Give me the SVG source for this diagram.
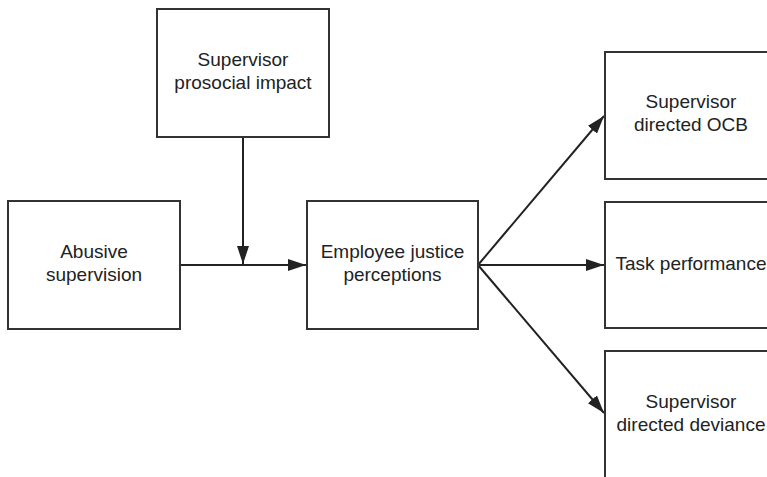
<svg xmlns="http://www.w3.org/2000/svg" width="767" height="477" viewBox="0 0 767 477">
  <defs>
    <marker id="arrow" viewBox="0 0 18 12" refX="18" refY="6" markerWidth="18" markerHeight="12" markerUnits="userSpaceOnUse" orient="auto">
      <path d="M0,0 L18,6 L0,12 Z" fill="#222"/>
    </marker>
  </defs>
  <style>
    .box { fill: #fff; stroke: #333; stroke-width: 2; }
    .label { font-family: "Liberation Sans", Arial, sans-serif; font-size: 19px; fill: #222; text-anchor: middle; }
    .edge { stroke: #222; stroke-width: 2; fill: none; marker-end: url(#arrow); }
  </style>
  <rect width="767" height="477" fill="#fff"/>

  <g id="connectors">
    <line class="edge" x1="180" y1="265" x2="306" y2="265"/>
    <line class="edge" x1="243" y1="137" x2="243" y2="264"/>
    <line class="edge" x1="478" y1="265" x2="604" y2="116"/>
    <line class="edge" x1="478" y1="265" x2="604" y2="265"/>
    <line class="edge" x1="478" y1="265" x2="604" y2="413"/>
  </g>

  <g id="prosocial-impact">
    <rect class="box" x="157" y="9" width="172" height="128"/>
    <text class="label" x="243" y="66">Supervisor</text>
    <text class="label" x="243" y="89">prosocial impact</text>
  </g>

  <g id="abusive-supervision">
    <rect class="box" x="8" y="201" width="172" height="128"/>
    <text class="label" x="94" y="258">Abusive</text>
    <text class="label" x="94" y="281">supervision</text>
  </g>

  <g id="justice-perceptions">
    <rect class="box" x="307" y="201" width="171" height="128"/>
    <text class="label" x="392.5" y="258">Employee justice</text>
    <text class="label" x="392.5" y="281">perceptions</text>
  </g>

  <g id="supervisor-ocb">
    <rect class="box" x="605" y="52" width="172" height="127"/>
    <text class="label" x="691" y="108">Supervisor</text>
    <text class="label" x="691" y="131">directed OCB</text>
  </g>

  <g id="task-performance">
    <rect class="box" x="605" y="202" width="172" height="126"/>
    <text class="label" x="691" y="270">Task performance</text>
  </g>

  <g id="supervisor-deviance">
    <rect class="box" x="605" y="351" width="172" height="128"/>
    <text class="label" x="691" y="408">Supervisor</text>
    <text class="label" x="691" y="431">directed deviance</text>
  </g>
</svg>
